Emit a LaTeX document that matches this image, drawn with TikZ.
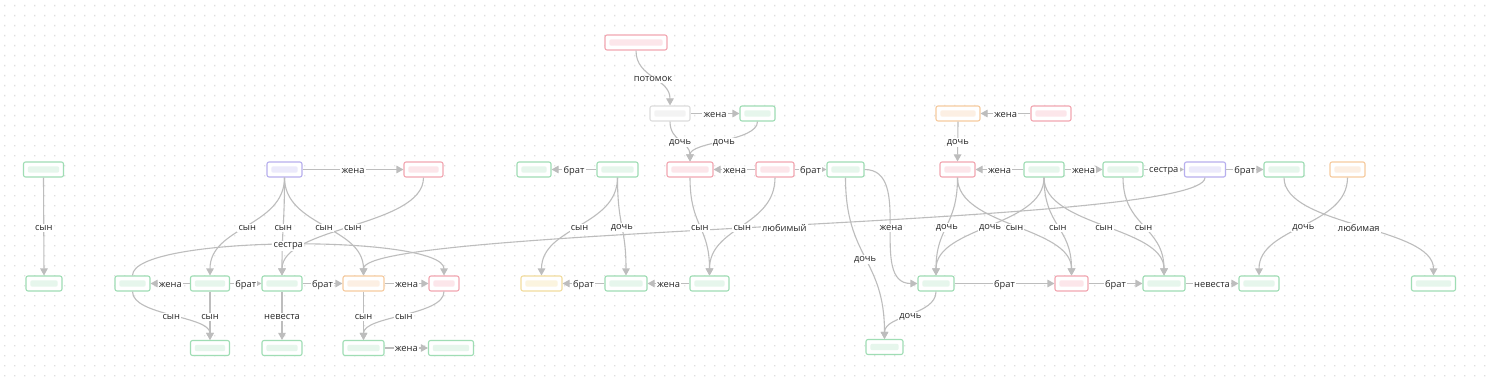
\documentclass[tikz,border=0pt]{standalone}
\usepackage{fontspec}
\setmainfont{Open Sans}
\usetikzlibrary{arrows.meta,calc}
\definecolor{gB}{HTML}{9FDDB4}
\definecolor{gI}{HTML}{E6F6EC}
\definecolor{rB}{HTML}{F2A6B1}
\definecolor{rI}{HTML}{FCE6EA}
\definecolor{pB}{HTML}{B7AFEE}
\definecolor{pI}{HTML}{ECEAFB}
\definecolor{oB}{HTML}{F6CB9F}
\definecolor{oI}{HTML}{FCEFE3}
\definecolor{yB}{HTML}{F2DC9E}
\definecolor{yI}{HTML}{FBF4DF}
\definecolor{wB}{HTML}{DDDDDD}
\definecolor{wI}{HTML}{F3F3F3}
\definecolor{ec}{HTML}{BDBDBD}
\definecolor{tc}{HTML}{262626}
\definecolor{dotc}{HTML}{DEDEDE}
\tikzset{
  bx/.style n args={3}{draw=#1, fill=white, rounded corners=2pt, line width=1.1pt,
    minimum height=15pt, minimum width=#3pt, inner sep=0pt,
    path picture={\fill[#2] ($(path picture bounding box.south west)+(4.3pt,4.3pt)$) rectangle ($(path picture bounding box.north east)+(-4.3pt,-4.3pt)$);}},
  gn/.style={bx={gB}{gI}{#1}},
  rn/.style={bx={rB}{rI}{#1}},
  pn/.style={bx={pB}{pI}{#1}},
  on/.style={bx={oB}{oI}{#1}},
  yn/.style={bx={yB}{yI}{#1}},
  wn/.style={bx={wB}{wI}{#1}},
  edge/.style={draw=ec, line width=1.1pt, -{Triangle[width=7.5pt,length=7pt]}},
  vc/.style={to path={let \p1=(\tikztostart), \p2=(\tikztotarget) in
     .. controls (\x1,{0.5*(\y1+\y2)}) and (\x2,{0.5*(\y1+\y2)}) .. (\tikztotarget) \tikztonodes}},
  hc/.style={to path={.. controls +(50,0) and +(-50,0) .. (\tikztotarget) \tikztonodes}},
  sis/.style={to path={.. controls +(0,-41) and +(0,-41) .. (\tikztotarget) \tikztonodes}},
  lbl/.style={fill=white, inner sep=1.2pt, text=tc, yshift=-1.4pt, font=\fontsize{9.3}{10}\selectfont},
}
\begin{document}
\begin{tikzpicture}[x=1pt,y=-1pt]
\useasboundingbox (0,0) rectangle (1487,385);
\fill[white] (0,0) rectangle (1487,385);
\fill[dotc] \foreach \x in {4,14,...,1484}{\foreach \y in {5,15,...,375}{(\x,\y) rectangle ++(1.4,1.4)}};

% nodes
\node[gn=40] (a1) at (43.5,169.5) {};
\node[gn=36] (a2) at (44,283.5) {};
\node[pn=35] (p1) at (284.5,169.5) {};
\node[rn=39] (r1) at (423.5,169.5) {};
\node[gn=35] (b1) at (132.5,283.5) {};
\node[gn=39] (b2) at (210,283.5) {};
\node[gn=40] (b3) at (282,283.5) {};
\node[on=41] (b4) at (363.5,283.5) {};
\node[rn=30] (b5) at (444,283.5) {};
\node[gn=39] (e1) at (210,348) {};
\node[gn=40] (e2) at (282,348) {};
\node[gn=41] (e3) at (363.5,348) {};
\node[gn=45] (e4) at (451,348) {};
\node[rn=62] (rt) at (636,42.5) {};
\node[wn=40] (w) at (670,113.5) {};
\node[gn=35] (g) at (757.5,113.5) {};
\node[gn=34] (gbl) at (534,169.5) {};
\node[gn=41] (gbr) at (617.5,169.5) {};
\node[rn=46] (rc) at (690,169.5) {};
\node[rn=38] (rd) at (775,169.5) {};
\node[gn=37] (ge) at (845.5,169.5) {};
\node[yn=41] (y1) at (541.5,283.5) {};
\node[gn=42] (c2) at (626,283.5) {};
\node[gn=39] (c3) at (709.5,283.5) {};
\node[on=44] (ol) at (958,113.5) {};
\node[rn=40] (rm) at (1051,113.5) {};
\node[rn=35] (rf) at (957.5,169.5) {};
\node[gn=40] (gg) at (1044,169.5) {};
\node[gn=40] (gh) at (1123,169.5) {};
\node[pn=41] (pi) at (1205,169.5) {};
\node[gn=40] (gj) at (1284,169.5) {};
\node[on=35] (ok) at (1347.5,169.5) {};
\node[gn=36] (d1) at (936,283.5) {};
\node[rn=33] (d2) at (1071.5,283.5) {};
\node[gn=42] (d3) at (1164,283.5) {};
\node[gn=40] (d4) at (1259,283.5) {};
\node[gn=44] (d5) at (1433.5,283.5) {};
\node[gn=37] (f1) at (884.5,347) {};

% edges
\draw[edge] (a1.south) -- coordinate[midway] (m1) (a2.north);
\draw[edge] (p1.east) -- coordinate[midway] (m2) (r1.west);
\draw[edge] (p1.south) to[vc] coordinate[midway] (m3) (b2.north);
\draw[edge] (p1.south) to[vc] coordinate[midway] (m4) (b3.north);
\draw[edge] (p1.south) to[vc] coordinate[midway] (m5) (b4.north);
\draw[edge] (r1.south) to[vc] coordinate[midway] (m6) (b3.north);
\draw[edge] (b1.north) to[sis] coordinate[midway] (m7) (b5.north);
\draw[edge] (pi.south) to[vc] coordinate[midway] (m8) (b4.north);
\draw[edge] (b2.west) -- coordinate[midway] (m9) (b1.east);
\draw[edge] (b2.east) -- coordinate[midway] (m10) (b3.west);
\draw[edge] (b3.east) -- coordinate[midway] (m11) (b4.west);
\draw[edge] (b4.east) -- coordinate[midway] (m12) (b5.west);
\draw[edge] (b1.south) to[vc] coordinate[midway] (m13) (e1.north);
\draw[edge] (b2.south) -- coordinate[midway] (m14) (e1.north);
\draw[edge] (b3.south) -- coordinate[midway] (m15) (e2.north);
\draw[edge] (b4.south) -- coordinate[midway] (m16) (e3.north);
\draw[edge] (b5.south) to[vc] coordinate[midway] (m17) (e3.north);
\draw[edge] (e3.east) -- coordinate[midway] (m18) (e4.west);
\draw[edge] (rt.south) to[vc] coordinate[midway] (m19) (w.north);
\draw[edge] (w.east) -- coordinate[midway] (m20) (g.west);
\draw[edge] (w.south) to[vc] coordinate[midway] (m21) (rc.north);
\draw[edge] (g.south) to[vc] coordinate[midway] (m22) (rc.north);
\draw[edge] (gbr.west) -- coordinate[midway] (m23) (gbl.east);
\draw[edge] (rd.west) -- coordinate[midway] (m24) (rc.east);
\draw[edge] (rd.east) -- coordinate[midway] (m25) (ge.west);
\draw[edge] (gbr.south) to[vc] coordinate[midway] (m26) (y1.north);
\draw[edge] (gbr.south) to[vc] coordinate[midway] (m27) (c2.north);
\draw[edge] (c2.west) -- coordinate[midway] (m28) (y1.east);
\draw[edge] (c3.west) -- coordinate[midway] (m29) (c2.east);
\draw[edge] (rc.south) to[vc] coordinate[midway] (m30) (c3.north);
\draw[edge] (rd.south) to[vc] coordinate[midway] (m31) (c3.north);
\draw[edge] (ge.south) to[vc] coordinate[midway] (m32) (f1.north);
\draw[edge] (ge.east) to[hc] coordinate[midway] (m33) (d1.west);
\draw[edge] (d1.south) to[vc] coordinate[midway] (m34) (f1.north);
\draw[edge] (rm.west) -- coordinate[midway] (m35) (ol.east);
\draw[edge] (ol.south) -- coordinate[midway] (m36) (rf.north);
\draw[edge] (gg.west) -- coordinate[midway] (m37) (rf.east);
\draw[edge] (gg.east) -- coordinate[midway] (m38) (gh.west);
\draw[edge] (gh.east) -- coordinate[midway] (m39) (pi.west);
\draw[edge] (pi.east) -- coordinate[midway] (m40) (gj.west);
\draw[edge] (rf.south) to[vc] coordinate[midway] (m41) (d1.north);
\draw[edge] (rf.south) to[vc] coordinate[midway] (m42) (d2.north);
\draw[edge] (gg.south) to[vc] coordinate[midway] (m43) (d1.north);
\draw[edge] (gg.south) to[vc] coordinate[midway] (m44) (d2.north);
\draw[edge] (gg.south) to[vc] coordinate[midway] (m45) (d3.north);
\draw[edge] (gh.south) to[vc] coordinate[midway] (m46) (d3.north);
\draw[edge] (d1.east) -- coordinate[midway] (m47) (d2.west);
\draw[edge] (d2.east) -- coordinate[midway] (m48) (d3.west);
\draw[edge] (d3.east) -- coordinate[midway] (m49) (d4.west);
\draw[edge] (ok.south) to[vc] coordinate[midway] (m50) (d4.north);
\draw[edge] (gj.south) to[vc] coordinate[midway] (m51) (d5.north);

% labels
\foreach \c/\t in {m1/сын, m2/жена, m3/сын, m4/сын, m5/сын, m6/сын, m7/сестра,
  m8/любимый, m9/жена, m10/брат, m11/брат, m12/жена, m13/сын, m14/сын,
  m15/невеста, m16/сын, m17/сын, m18/жена, m19/потомок, m20/жена, m21/дочь,
  m22/дочь, m23/брат, m24/жена, m25/брат, m26/сын, m27/дочь, m28/брат,
  m29/жена, m30/сын, m31/сын, m32/дочь, m33/жена, m34/дочь, m35/жена,
  m36/дочь, m37/жена, m38/жена, m39/сестра, m40/брат, m41/дочь, m42/сын,
  m43/дочь, m44/сын, m45/сын, m46/сын, m47/брат, m48/брат, m49/невеста,
  m50/дочь, m51/любимая}
  \node[lbl] (t\c) at (\c) {\t};
\end{tikzpicture}
\end{document}
